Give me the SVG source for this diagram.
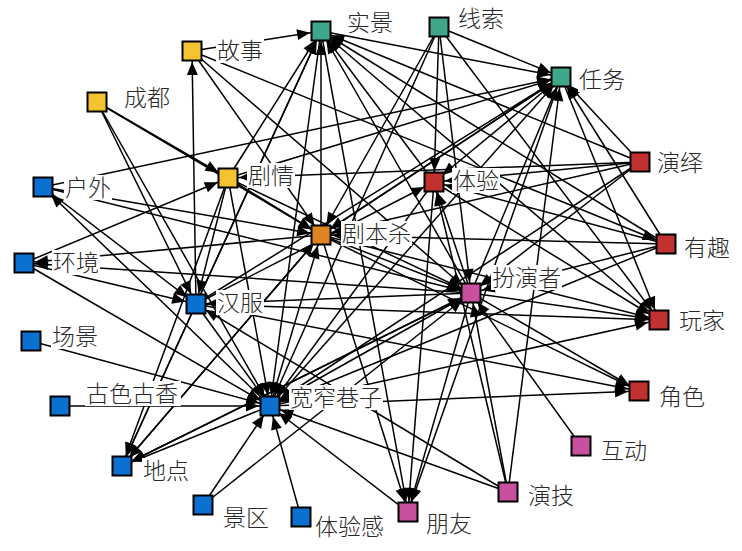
<svg xmlns="http://www.w3.org/2000/svg" width="742" height="551" viewBox="0 0 742 551">
<defs>
<marker id="ah" markerUnits="userSpaceOnUse" markerWidth="13" markerHeight="11" viewBox="0 0 13 11" refX="24" refY="5.5" orient="auto" overflow="visible">
<path d="M0,0 L13,5.5 L0,11 z" fill="#000"/>
</marker>
<style>
.e line{stroke:#000;stroke-width:1.5;fill:none;marker-end:url(#ah)}
.sq{stroke:#000;stroke-width:2}
.bg{fill:#fff}
text{font-family:"Noto Sans CJK SC","Noto Sans CJK JP",sans-serif;font-size:23px;font-weight:300;fill:#2a2a2a}
.teal{fill:#3FA68A}.yel{fill:#F3C42F}.blu{fill:#0B71D0}.red{fill:#C0312F}.org{fill:#DF8422}.pnk{fill:#C9509F}
</style>
</defs>
<rect width="742" height="551" fill="#fff"/>
<g id="edges" class="e">
<line x1="192" y1="51" x2="321" y2="31"/>
<line x1="228" y1="178" x2="321" y2="31"/>
<line x1="196" y1="304" x2="321" y2="31"/>
<line x1="321" y1="235" x2="321" y2="31"/>
<line x1="434" y1="182" x2="321" y2="31"/>
<line x1="471" y1="293" x2="321" y2="31"/>
<line x1="640" y1="162" x2="321" y2="31"/>
<line x1="666" y1="244" x2="321" y2="31"/>
<line x1="659" y1="320" x2="321" y2="31"/>
<line x1="122" y1="466" x2="321" y2="31"/>
<line x1="321" y1="31" x2="270" y2="406"/>
<line x1="321" y1="31" x2="561" y2="77"/>
<line x1="321" y1="31" x2="408" y2="512"/>
<line x1="439" y1="27" x2="561" y2="77"/>
<line x1="439" y1="27" x2="434" y2="182"/>
<line x1="439" y1="27" x2="321" y2="235"/>
<line x1="439" y1="27" x2="270" y2="406"/>
<line x1="439" y1="27" x2="471" y2="293"/>
<line x1="439" y1="27" x2="659" y2="320"/>
<line x1="228" y1="178" x2="561" y2="77"/>
<line x1="321" y1="235" x2="561" y2="77"/>
<line x1="196" y1="304" x2="561" y2="77"/>
<line x1="270" y1="406" x2="561" y2="77"/>
<line x1="471" y1="293" x2="561" y2="77"/>
<line x1="640" y1="162" x2="561" y2="77"/>
<line x1="666" y1="244" x2="561" y2="77"/>
<line x1="43" y1="187" x2="561" y2="77"/>
<line x1="508" y1="492" x2="561" y2="77"/>
<line x1="561" y1="77" x2="408" y2="512"/>
<line x1="561" y1="77" x2="659" y2="320"/>
<line x1="561" y1="77" x2="434" y2="182"/>
<line x1="561" y1="77" x2="321" y2="235"/>
<line x1="192" y1="51" x2="321" y2="235"/>
<line x1="192" y1="51" x2="471" y2="293"/>
<line x1="192" y1="51" x2="666" y2="244"/>
<line x1="196" y1="304" x2="192" y2="51"/>
<line x1="97" y1="102" x2="228" y2="178"/>
<line x1="97" y1="102" x2="321" y2="235"/>
<line x1="97" y1="102" x2="196" y2="304"/>
<line x1="97" y1="102" x2="270" y2="406"/>
<line x1="43" y1="187" x2="321" y2="235"/>
<line x1="43" y1="187" x2="471" y2="293"/>
<line x1="43" y1="187" x2="196" y2="304"/>
<line x1="270" y1="406" x2="43" y2="187"/>
<line x1="321" y1="235" x2="24" y2="263"/>
<line x1="24" y1="263" x2="270" y2="406"/>
<line x1="24" y1="263" x2="196" y2="304"/>
<line x1="24" y1="263" x2="228" y2="178"/>
<line x1="228" y1="178" x2="321" y2="235"/>
<line x1="228" y1="178" x2="196" y2="304"/>
<line x1="228" y1="178" x2="122" y2="466"/>
<line x1="228" y1="178" x2="270" y2="406"/>
<line x1="228" y1="178" x2="471" y2="293"/>
<line x1="640" y1="162" x2="228" y2="178"/>
<line x1="270" y1="406" x2="321" y2="235"/>
<line x1="321" y1="235" x2="471" y2="293"/>
<line x1="321" y1="235" x2="659" y2="320"/>
<line x1="321" y1="235" x2="639" y2="391"/>
<line x1="321" y1="235" x2="122" y2="466"/>
<line x1="321" y1="235" x2="408" y2="512"/>
<line x1="434" y1="182" x2="270" y2="406"/>
<line x1="196" y1="304" x2="434" y2="182"/>
<line x1="434" y1="182" x2="408" y2="512"/>
<line x1="434" y1="182" x2="659" y2="320"/>
<line x1="640" y1="162" x2="434" y2="182"/>
<line x1="640" y1="162" x2="471" y2="293"/>
<line x1="640" y1="162" x2="321" y2="235"/>
<line x1="640" y1="162" x2="270" y2="406"/>
<line x1="666" y1="244" x2="434" y2="182"/>
<line x1="666" y1="244" x2="321" y2="235"/>
<line x1="666" y1="244" x2="471" y2="293"/>
<line x1="666" y1="244" x2="270" y2="406"/>
<line x1="471" y1="293" x2="434" y2="182"/>
<line x1="471" y1="293" x2="270" y2="406"/>
<line x1="471" y1="293" x2="659" y2="320"/>
<line x1="471" y1="293" x2="639" y2="391"/>
<line x1="471" y1="293" x2="408" y2="512"/>
<line x1="471" y1="293" x2="196" y2="304"/>
<line x1="471" y1="293" x2="122" y2="466"/>
<line x1="471" y1="293" x2="24" y2="263"/>
<line x1="196" y1="304" x2="270" y2="406"/>
<line x1="196" y1="304" x2="122" y2="466"/>
<line x1="196" y1="304" x2="659" y2="320"/>
<line x1="196" y1="304" x2="639" y2="391"/>
<line x1="270" y1="406" x2="639" y2="391"/>
<line x1="270" y1="406" x2="659" y2="320"/>
<line x1="408" y1="512" x2="270" y2="406"/>
<line x1="270" y1="406" x2="122" y2="466"/>
<line x1="60" y1="406" x2="270" y2="406"/>
<line x1="31" y1="341" x2="270" y2="406"/>
<line x1="203" y1="505" x2="270" y2="406"/>
<line x1="301" y1="517" x2="270" y2="406"/>
<line x1="203" y1="505" x2="471" y2="293"/>
<line x1="508" y1="492" x2="471" y2="293"/>
<line x1="508" y1="492" x2="434" y2="182"/>
<line x1="508" y1="492" x2="196" y2="304"/>
<line x1="508" y1="492" x2="270" y2="406"/>
<line x1="581" y1="446" x2="471" y2="293"/>
<line x1="122" y1="466" x2="471" y2="293"/>
<line x1="122" y1="466" x2="321" y2="235"/>
</g>
<g id="n-shijing"><rect class="sq teal" x="311.5" y="21.5" width="19" height="19"/><rect class="bg" x="346" y="10" width="48" height="25"/><text x="347" y="31">实景</text></g>
<g id="n-xiansuo"><rect class="sq teal" x="429.5" y="17.5" width="19" height="19"/><rect class="bg" x="457" y="6" width="48" height="25"/><text x="458" y="27">线索</text></g>
<g id="n-gushi"><rect class="sq yel" x="182.5" y="41.5" width="19" height="19"/><rect class="bg" x="216" y="38" width="48" height="25"/><text x="217" y="59">故事</text></g>
<g id="n-renwu"><rect class="sq teal" x="551.5" y="67.5" width="19" height="19"/><rect class="bg" x="578" y="67" width="48" height="25"/><text x="579" y="88">任务</text></g>
<g id="n-chengdu"><rect class="sq yel" x="87.5" y="92.5" width="19" height="19"/><rect class="bg" x="123" y="85" width="48" height="25"/><text x="124" y="106">成都</text></g>
<g id="n-juqing"><rect class="sq yel" x="218.5" y="168.5" width="19" height="19"/><rect class="bg" x="247" y="163" width="48" height="25"/><text x="248" y="184">剧情</text></g>
<g id="n-huwai"><rect class="sq blu" x="33.5" y="177.5" width="19" height="19"/><rect class="bg" x="64" y="175" width="48" height="25"/><text x="65" y="196">户外</text></g>
<g id="n-tiyan"><rect class="sq red" x="424.5" y="172.5" width="19" height="19"/><rect class="bg" x="452" y="168" width="48" height="25"/><text x="453" y="189">体验</text></g>
<g id="n-yanyi"><rect class="sq red" x="630.5" y="152.5" width="19" height="19"/><rect class="bg" x="656" y="150" width="48" height="25"/><text x="657" y="171">演绎</text></g>
<g id="n-jubensha"><rect class="sq org" x="311.5" y="225.5" width="19" height="19"/><rect class="bg" x="341" y="221" width="71" height="25"/><text x="342" y="242">剧本杀</text></g>
<g id="n-youqu"><rect class="sq red" x="656.5" y="234.5" width="19" height="19"/><rect class="bg" x="683" y="235" width="48" height="25"/><text x="684" y="256">有趣</text></g>
<g id="n-huanjing"><rect class="sq blu" x="14.5" y="253.5" width="19" height="19"/><rect class="bg" x="52" y="250" width="48" height="25"/><text x="53" y="271">环境</text></g>
<g id="n-banyanzhe"><rect class="sq pnk" x="461.5" y="283.5" width="19" height="19"/><rect class="bg" x="491" y="265" width="71" height="25"/><text x="492" y="286">扮演者</text></g>
<g id="n-hanfu"><rect class="sq blu" x="186.5" y="294.5" width="19" height="19"/><rect class="bg" x="216" y="290" width="48" height="25"/><text x="217" y="311">汉服</text></g>
<g id="n-wanjia"><rect class="sq red" x="649.5" y="310.5" width="19" height="19"/><rect class="bg" x="678" y="308" width="48" height="25"/><text x="679" y="329">玩家</text></g>
<g id="n-changjing"><rect class="sq blu" x="21.5" y="331.5" width="19" height="19"/><rect class="bg" x="51" y="324" width="48" height="25"/><text x="52" y="345">场景</text></g>
<g id="n-guseguxiang"><rect class="sq blu" x="50.5" y="396.5" width="19" height="19"/><rect class="bg" x="85" y="381" width="96" height="25"/><text x="86" y="402">古色古香</text></g>
<g id="n-kuanzhaixiangzi"><rect class="sq blu" x="260.5" y="396.5" width="19" height="19"/><rect class="bg" x="289" y="385" width="94" height="25"/><text x="290" y="406">宽窄巷子</text></g>
<g id="n-juese"><rect class="sq red" x="629.5" y="381.5" width="19" height="19"/><rect class="bg" x="658" y="384" width="48" height="25"/><text x="659" y="405">角色</text></g>
<g id="n-hudong"><rect class="sq pnk" x="571.5" y="436.5" width="19" height="19"/><rect class="bg" x="600" y="438" width="48" height="25"/><text x="601" y="459">互动</text></g>
<g id="n-didian"><rect class="sq blu" x="112.5" y="456.5" width="19" height="19"/><rect class="bg" x="142" y="458" width="48" height="25"/><text x="143" y="479">地点</text></g>
<g id="n-yanji"><rect class="sq pnk" x="498.5" y="482.5" width="19" height="19"/><rect class="bg" x="527" y="483" width="48" height="25"/><text x="528" y="504">演技</text></g>
<g id="n-jingqu"><rect class="sq blu" x="193.5" y="495.5" width="19" height="19"/><rect class="bg" x="222" y="505" width="48" height="25"/><text x="223" y="526">景区</text></g>
<g id="n-tiyangan"><rect class="sq blu" x="291.5" y="507.5" width="19" height="19"/><rect class="bg" x="314" y="514" width="71" height="25"/><text x="315" y="535">体验感</text></g>
<g id="n-pengyou"><rect class="sq pnk" x="398.5" y="502.5" width="19" height="19"/><rect class="bg" x="425" y="511" width="48" height="25"/><text x="426" y="532">朋友</text></g>
</svg>
